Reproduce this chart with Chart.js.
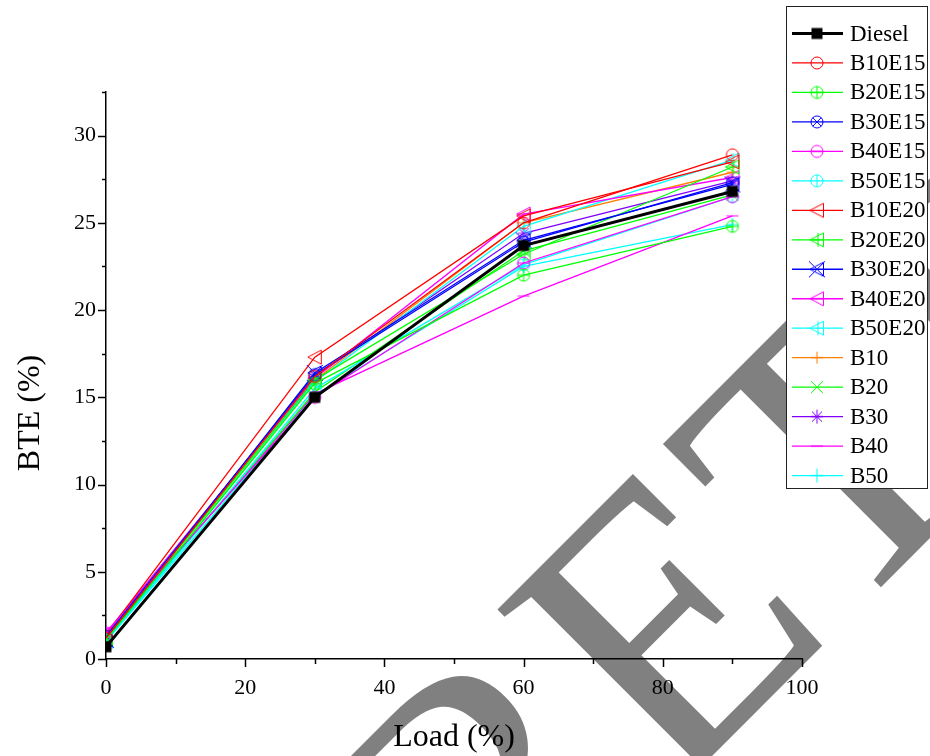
<!DOCTYPE html>
<html>
<head>
<meta charset="utf-8">
<script src="https://cdn.jsdelivr.net/npm/chart.js@4.4.1/dist/chart.umd.min.js"></script>
<style>
  html, body { margin: 0; padding: 0; background: #fff; }
  #wrap { width: 930px; height: 756px; }
</style>
</head>
<body>
<div id="wrap"><canvas id="bteChart" width="930" height="756"></canvas></div>
<script>
// load points (%)
var loads = [0, 30, 60, 90];
var xTicks = [0, 20, 40, 60, 80, 100];
var yTicks = [0, 5, 10, 15, 20, 25, 30];

// BTE (%)
var diesel = [0.7, 15.0, 23.7, 26.8];
var b10e15 = [1.2, 16.2, 25.0, 28.9];
var b20e15 = [1.1, 15.8, 22.0, 24.8];
var b30e15 = [1.3, 16.3, 23.9, 27.3];
var b40e15 = [1.5, 15.0, 22.7, 26.5];
var b50e15 = [1.0, 15.5, 22.6, 26.5];
var b10e20 = [1.4, 17.3, 25.4, 28.5];
var b20e20 = [1.2, 16.0, 23.2, 28.2];
var b30e20 = [1.1, 16.4, 24.0, 27.2];
var b40e20 = [1.5, 16.1, 25.5, 27.6];
var b50e20 = [1.0, 15.9, 24.8, 28.6];
var b10 = [1.3, 16.0, 25.0, 27.9];
var b20 = [1.2, 15.3, 23.4, 26.6];
var b30 = [1.4, 16.2, 24.4, 27.4];
var b40 = [1.3, 15.2, 20.8, 25.4];
var b50 = [1.0, 15.1, 22.5, 24.9];

var serif = '"Liberation Serif", "Times New Roman", serif';

// build a little canvas for each Origin-style symbol
function makeMarker(shape, inner, color) {
    var c = document.createElement('canvas');
    c.width = 22;
    c.height = 22;
    var g = c.getContext('2d');
    g.translate(11, 11);
    g.strokeStyle = color;
    g.fillStyle = color;
    g.lineWidth = 1;
    function seg(x1, y1, x2, y2) {
        g.beginPath();
        g.moveTo(x1, y1);
        g.lineTo(x2, y2);
        g.stroke();
    }
    if (shape === 'square') {
        g.fillRect(-5.5, -5.5, 11, 11);
    } else if (shape === 'circle') {
        g.beginPath();
        g.arc(0, 0, 6, 0, Math.PI * 2);
        g.stroke();
        if (inner === 'plus') { seg(-6, 0, 6, 0); seg(0, -6, 0, 6); }
        if (inner === 'x') { seg(-4.3, -4.3, 4.3, 4.3); seg(-4.3, 4.3, 4.3, -4.3); }
        if (inner === 'dash') { seg(-6, 0, 6, 0); }
        if (inner === 'bar') { seg(0, -6, 0, 6); }
    } else if (shape === 'tri') {
        g.beginPath();
        g.moveTo(-7, 0);
        g.lineTo(6.5, -7);
        g.lineTo(6.5, 7);
        g.closePath();
        g.stroke();
        if (inner === 'plus') { seg(-7, 0, 6.5, 0); seg(1, -7, 1, 7); }
        if (inner === 'x') { seg(-8, -8, 8, 8); seg(-8, 8, 8, -8); }
        if (inner === 'dash') { seg(-7, 0, 6.5, 0); }
        if (inner === 'bar') { seg(1, -7, 1, 7); }
    } else if (shape === 'plus') {
        seg(-6, 0, 6, 0); seg(0, -6, 0, 6);
    } else if (shape === 'x') {
        seg(-6, -6, 6, 6); seg(-6, 6, 6, -6);
    } else if (shape === 'star') {
        seg(-6, 0, 6, 0); seg(0, -7, 0, 7);
        seg(-5, -5, 5, 5); seg(-5, 5, 5, -5);
    } else if (shape === 'dash') {
        seg(-6, 0, 6, 0);
    } else if (shape === 'bar') {
        seg(-6, 0, 6, 0); seg(0, -7, 0, 7);
    }
    return c;
}

function series(label, data, color, shape, inner, width) {
    return {
        label: label,
        data: data,
        borderColor: color,
        backgroundColor: color,
        borderWidth: width || 1.3,
        pointStyle: makeMarker(shape, inner, color),
        tension: 0
    };
}

var datasets = [
    series('Diesel', diesel, '#000000', 'square', '', 3),
    series('B10E15', b10e15, '#ff0000', 'circle', ''),
    series('B20E15', b20e15, '#00ff00', 'circle', 'plus'),
    series('B30E15', b30e15, '#0000ff', 'circle', 'x'),
    series('B40E15', b40e15, '#ff00ff', 'circle', 'dash'),
    series('B50E15', b50e15, '#00ffff', 'circle', 'bar'),
    series('B10E20', b10e20, '#ff0000', 'tri', ''),
    series('B20E20', b20e20, '#00ff00', 'tri', 'plus'),
    series('B30E20', b30e20, '#0000ff', 'tri', 'x'),
    series('B40E20', b40e20, '#ff00ff', 'tri', 'dash'),
    series('B50E20', b50e20, '#00ffff', 'tri', 'bar'),
    series('B10', b10, '#ff8000', 'plus', ''),
    series('B20', b20, '#00ff00', 'x', ''),
    series('B30', b30, '#8000ff', 'star', ''),
    series('B40', b40, '#ff00ff', 'dash', ''),
    series('B50', b50, '#00ffff', 'bar', '')
];

// grey diagonal watermark behind everything
var watermark = {
    id: 'watermark',
    beforeDraw: function(chart) {
        var ctx = chart.ctx;
        ctx.save();
        ctx.fillStyle = '#fff';
        ctx.fillRect(0, 0, chart.width, chart.height);
        ctx.translate(465, 378);
        ctx.rotate(-Math.PI / 4);
        ctx.font = '390px ' + serif;
        ctx.fillStyle = '#808080';
        ctx.textBaseline = 'alphabetic';
        var wR = ctx.measureText('R').width;
        ctx.fillText('RETRACTED', -152 - wR, 442);
        ctx.restore();
    }
};

// major / minor tick marks plus the axis titles
var axisDeco = {
    id: 'axisDeco',
    afterDraw: function(chart) {
        var ctx = chart.ctx;
        var xs = chart.scales.x, ys = chart.scales.y;
        var area = chart.chartArea;
        ctx.save();
        ctx.strokeStyle = '#000';
        ctx.lineWidth = 1.5;
        for (var v = 0; v <= 32.5; v += 2.5) {
            var py = Math.round(ys.getPixelForValue(v)) + 0.5;
            var len = (v % 5 === 0) ? 8 : 4;
            ctx.beginPath();
            ctx.moveTo(area.left - len, py);
            ctx.lineTo(area.left, py);
            ctx.stroke();
        }
        for (var u = 0; u <= 100; u += 10) {
            var px = Math.round(xs.getPixelForValue(u)) + 0.5;
            var l2 = (u % 20 === 0) ? 8 : 5;
            ctx.beginPath();
            ctx.moveTo(px, area.bottom);
            ctx.lineTo(px, area.bottom + l2);
            ctx.stroke();
        }
        ctx.fillStyle = '#000';
        ctx.font = '32px ' + serif;
        ctx.textAlign = 'center';
        ctx.textBaseline = 'middle';
        ctx.fillText('Load (%)', (area.left + area.right) / 2, 738);
        ctx.translate(31, 413);
        ctx.rotate(-Math.PI / 2);
        ctx.fillText('BTE (%)', 0, 0);
        ctx.restore();
    }
};

// boxed legend at the top right, drawn from the datasets
var boxLegend = {
    id: 'boxLegend',
    afterDraw: function(chart) {
        var ctx = chart.ctx;
        ctx.save();
        ctx.fillStyle = '#fff';
        ctx.fillRect(786, 6, 141, 482);
        ctx.strokeStyle = '#222';
        ctx.lineWidth = 1;
        ctx.strokeRect(786.5, 6.5, 141, 482);
        ctx.font = '23px ' + serif;
        ctx.textBaseline = 'middle';
        ctx.textAlign = 'left';
        chart.data.datasets.forEach(function(ds, i) {
            var y = 33.5 + i * 29.47;
            ctx.strokeStyle = ds.borderColor;
            ctx.lineWidth = ds.borderWidth;
            ctx.beginPath();
            ctx.moveTo(792, y);
            ctx.lineTo(843, y);
            ctx.stroke();
            var m = ds.pointStyle;
            ctx.drawImage(m, 817 - m.width / 2, y - m.height / 2);
            ctx.fillStyle = '#000';
            ctx.fillText(ds.label, 850, y + 1);
        });
        ctx.restore();
    }
};

Chart.defaults.font.family = serif;
Chart.defaults.color = '#000';

new Chart(document.getElementById('bteChart'), {
    type: 'line',
    data: {
        datasets: datasets.map(function(ds) {
            ds.data = ds.data.map(function(v, i) { return { x: loads[i], y: v }; });
            return ds;
        })
    },
    options: {
        responsive: false,
        animation: false,
        layout: { padding: { left: 0, top: 92, right: 128, bottom: 0 } },
        plugins: {
            legend: { display: false },
            tooltip: { enabled: false }
        },
        elements: { line: { fill: false } },
        scales: {
            x: {
                type: 'linear',
                min: 0,
                max: 100,
                afterFit: function(s) { s.height = 97; },
                grid: { display: false, drawTicks: false },
                border: { display: true, color: '#000', width: 1.5 },
                ticks: {
                    stepSize: 20,
                    padding: 16,
                    font: { size: 22 },
                    callback: function(v) { return xTicks.indexOf(v) >= 0 ? v : ''; }
                }
            },
            y: {
                min: 0,
                max: 32.5,
                afterFit: function(s) { s.width = 106; },
                afterBuildTicks: function(s) {
                    s.ticks = yTicks.map(function(v) { return { value: v }; });
                },
                grid: { display: false, drawTicks: false },
                border: { display: true, color: '#000', width: 1.5 },
                ticks: {
                    padding: 10,
                    font: { size: 22 }
                }
            }
        }
    },
    plugins: [watermark, axisDeco, boxLegend]
});
</script>
</body>
</html>
